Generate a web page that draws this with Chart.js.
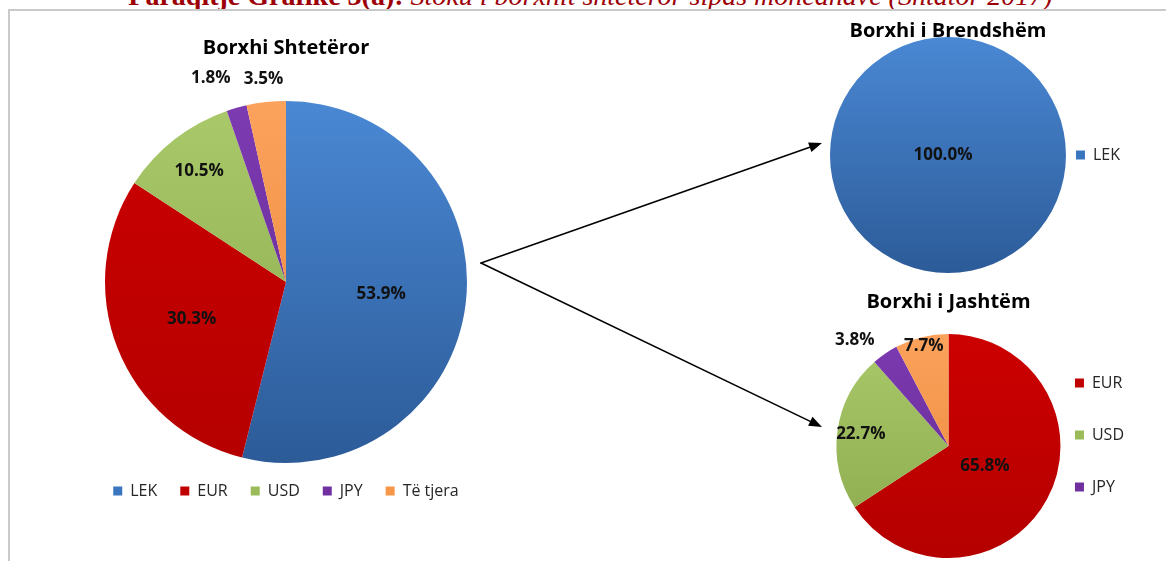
<!DOCTYPE html>
<html>
<head>
<meta charset="utf-8">
<script src="https://cdn.jsdelivr.net/npm/chart.js@4.4.1/dist/chart.umd.min.js"></script>
<style>
  body { margin: 0; background: #fff; width: 1166px; height: 561px; overflow: hidden; position: relative; }
  #heading { position: absolute; left: 0; top: -18px; width: 1181px; text-align: center; white-space: nowrap;
             font: bold 28px 'Liberation Serif', serif; line-height: 28px; color: #9c0006; }
  #heading i { font-weight: normal; }
  #frame { position: absolute; left: 8px; top: 9px; width: 1170px; height: 560px; background: #fff;
           border-left: 2px solid #cacaca; border-top: 2px solid #cacaca; }
  .box { position: absolute; }
  #arrows { position: absolute; left: 0; top: 0; pointer-events: none; }
</style>
</head>
<body>
<div id="heading">Paraqitje Grafike 3(a): <i>Stoku i borxhit shtetëror sipas monedhave (Shtator 2017)</i></div>
<div id="frame"></div>
<div class="box" style="left:86px;top:28px;width:400px;height:481px"><canvas id="mainPie"></canvas></div>
<div class="box" style="left:740px;top:12px;width:426px;height:263px"><canvas id="domesticPie"></canvas></div>
<div class="box" style="left:740px;top:290px;width:426px;height:290px"><canvas id="externalPie"></canvas></div>
<canvas id="arrows" width="1166" height="561"></canvas>
<script>
// Data
const mainLabels = ['LEK', 'EUR', 'USD', 'JPY', 'Të tjera'];
const mainValues = [53.9, 30.3, 10.5, 1.8, 3.5];
const domesticLabels = ['LEK'];
const domesticValues = [100.0];
const externalLabels = ['EUR', 'USD', 'JPY', 'Të tjera'];
const externalValues = [65.8, 22.7, 3.8, 7.7];

// Colours per currency: [flat, light top, dark bottom]
const palette = {
    'LEK': ['#3a75c0', '#4a88d4', '#2c5b98'],
    'EUR': ['#c00000', '#cc0000', '#b50000'],
    'USD': ['#9bbb59', '#a9c96a', '#8ba94c'],
    'JPY': ['#7030a0', '#7d3bb2', '#61288c'],
    'Të tjera': ['#f79646', '#fba25c', '#ea8738']
};

const FONT = '"Open Sans", Lato, sans-serif';

// Vertical gradient over the pie, like the Excel fill
function shaded(labels) {
    return ctx => {
        const c = palette[labels[ctx.dataIndex]];
        const area = ctx.chart.chartArea;
        if (!area) return c[0];
        const r = ctx.chart.options.radius;
        const cy = (area.top + area.bottom) / 2;
        const g = ctx.chart.ctx.createLinearGradient(0, cy - r, 0, cy + r);
        g.addColorStop(0, c[1]);
        g.addColorStop(1, c[2]);
        return g;
    };
}

// Percent labels drawn at a fraction of the radius along each slice
const pctLabels = {
    id: 'pctLabels',
    afterDatasetsDraw(chart, args, opts) {
        const ctx = chart.ctx;
        const meta = chart.getDatasetMeta(0);
        const values = chart.data.datasets[0].data;
        ctx.save();
        ctx.font = 'bold 17px ' + FONT;
        ctx.fillStyle = '#111';
        ctx.textAlign = 'center';
        ctx.textBaseline = 'middle';
        meta.data.forEach((arc, i) => {
            const p = arc.getProps(['x', 'y', 'startAngle', 'endAngle', 'outerRadius'], true);
            const mid = (p.startAngle + p.endAngle) / 2;
            const d = p.outerRadius * opts.dist[i];
            const nudge = (opts.nudge && opts.nudge[i]) || [0, 0];
            const x = p.x + Math.cos(mid) * d + nudge[0];
            const y = p.y + Math.sin(mid) * d + nudge[1];
            ctx.fillText(values[i].toFixed(1) + '%', x, y);
        });
        ctx.restore();
    }
};

function flatLegend(chart) {
    const items = Chart.overrides.doughnut.plugins.legend.labels.generateLabels(chart);
    items.forEach(it => {
        it.fillStyle = palette[it.text][0];
        it.strokeStyle = palette[it.text][0];
        it.lineWidth = 0;
    });
    return items;
}

function makePie(id, labels, values, cfg) {
    return new Chart(document.getElementById(id), {
        type: 'pie',
        data: {
            labels: labels,
            datasets: [{
                data: values,
                backgroundColor: shaded(labels),
                borderWidth: 0
            }]
        },
        options: {
            responsive: true,
            maintainAspectRatio: false,
            animation: false,
            radius: cfg.radius,
            layout: { padding: cfg.padding },
            plugins: {
                tooltip: { enabled: false },
                title: {
                    display: true,
                    text: cfg.title,
                    color: '#000',
                    fullSize: cfg.titleFull,
                    font: { family: FONT, size: 20, weight: 'bold' },
                    padding: cfg.titlePad
                },
                legend: {
                    position: cfg.legendPos,
                    fullSize: cfg.legendFull,
                    labels: {
                        color: '#262626',
                        font: { family: FONT, size: 16 },
                        boxWidth: 9,
                        boxHeight: 9,
                        padding: cfg.legendGap,
                        generateLabels: flatLegend,
                        filter: item => cfg.legendItems.includes(item.text)
                    }
                },
                pctLabels: { dist: cfg.dist, nudge: cfg.nudge }
            }
        },
        plugins: [pctLabels]
    });
}

makePie('mainPie', mainLabels, mainValues, {
    title: 'Borxhi Shtetëror',
    radius: 181,
    padding: 0,
    titleFull: true,
    titlePad: { top: 8, bottom: 44 },
    legendPos: 'bottom',
    legendFull: true,
    legendGap: 23,
    legendItems: mainLabels,
    dist: [0.53, 0.56, 0.78, 1.2, 1.13],
    nudge: [[0, 0], [0, 0], [0, 0], [-16, 5], [0, 0]]
});

makePie('domesticPie', domesticLabels, domesticValues, {
    title: 'Borxhi i Brendshëm',
    radius: 118,
    padding: { left: 90, right: 36 },
    titleFull: false,
    titlePad: { top: 7, bottom: -8 },
    legendPos: 'right',
    legendFull: false,
    legendGap: 10,
    legendItems: domesticLabels,
    dist: [0],
    nudge: [[-5, 0]]
});

makePie('externalPie', externalLabels, externalValues, {
    title: 'Borxhi i Jashtëm',
    radius: 112,
    padding: { left: 118, right: 32 },
    titleFull: false,
    titlePad: { top: 0, bottom: -2 },
    legendPos: 'right',
    legendFull: true,
    legendGap: 36,
    legendItems: ['EUR', 'USD', 'JPY'],
    dist: [0.37, 0.79, 1.27, 0.92],
    nudge: [[0, 0], [0, 0], [-13, 11], [0, 0]]
});

// Arrows from the main pie to the two breakdowns
const actx = document.getElementById('arrows').getContext('2d');
function arrow(x0, y0, x1, y1) {
    const a = Math.atan2(y1 - y0, x1 - x0);
    const len = 13, half = 5;
    actx.strokeStyle = '#000';
    actx.fillStyle = '#000';
    actx.lineWidth = 1.6;
    actx.beginPath();
    actx.moveTo(x0, y0);
    actx.lineTo(x1 - Math.cos(a) * len, y1 - Math.sin(a) * len);
    actx.stroke();
    actx.beginPath();
    actx.moveTo(x1, y1);
    actx.lineTo(x1 - Math.cos(a) * len - Math.sin(a) * half, y1 - Math.sin(a) * len + Math.cos(a) * half);
    actx.lineTo(x1 - Math.cos(a) * len + Math.sin(a) * half, y1 - Math.sin(a) * len - Math.cos(a) * half);
    actx.closePath();
    actx.fill();
}
actx.lineCap = 'round';
arrow(481, 263, 822, 143);
arrow(481, 263, 822, 427);
</script>
</body>
</html>
